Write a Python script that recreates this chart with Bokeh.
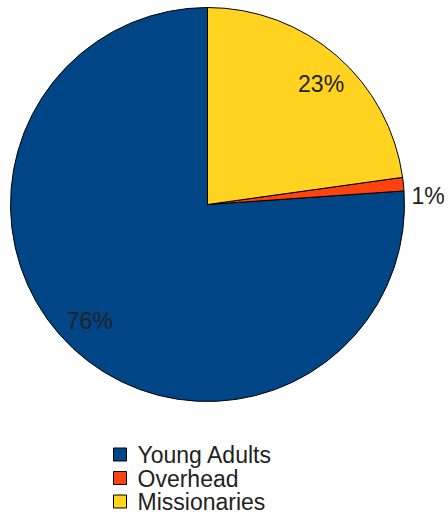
import math
from bokeh.plotting import figure
from bokeh.models import Range1d, ColumnDataSource
from bokeh.core.properties import value
from bokeh.embed import file_html
from bokeh.resources import INLINE

categories = ["Young Adults", "Overhead", "Missionaries"]
shares = [76.1, 1.1, 22.8]
labels = ["76%", "1%", "23%"]
colors = ["#004586", "#ff420e", "#ffd320"]

W, H = 448, 521
p = figure(width=W, height=H, output_backend="svg", toolbar_location=None,
           x_range=Range1d(0, W), y_range=Range1d(-H, 0),
           x_axis_type=None, y_axis_type=None, min_border=0)
p.outline_line_color = None
p.grid.visible = False

cx, cy, R = 207, -204, 197
total = sum(shares)
starts, ends, mids = [], [], []
a = math.pi / 2
for s in shares:
    span = 2 * math.pi * s / total
    starts.append(a)
    ends.append(a + span)
    mids.append(a + span / 2)
    a += span

src = ColumnDataSource(dict(cat=categories, start=starts, end=ends, color=colors))
p.wedge(x=cx, y=cy, radius=R, start_angle="start", end_angle="end",
        direction="anticlock", fill_color="color", line_color="#000000",
        line_width=1, source=src)

# slice labels
in_x, in_y, in_t = [], [], []
out_x, out_y, out_t = [], [], []
for s, m, lab in zip(shares, mids, labels):
    if s / total < 0.05:
        out_x.append(cx + (R + 8) * math.cos(m))
        out_y.append(cy + (R + 8) * math.sin(m))
        out_t.append(lab)
    else:
        ang = m - math.radians(2.3)
        in_x.append(cx + 0.84 * R * math.cos(ang))
        in_y.append(cy + 0.84 * R * math.sin(ang))
        in_t.append(lab)
p.text(x=in_x, y=in_y, text=in_t, text_align="center", text_baseline="middle",
       text_font=value("Liberation Sans"), text_font_size="23px", text_color="#222222")
p.text(x=out_x, y=out_y, text=out_t, text_align="left", text_baseline="top",
       text_font=value("Liberation Sans"), text_font_size="23px", text_color="#222222")

# legend
ly0, ldy = -454, -23.5
ly = [ly0 + i * ldy for i in range(len(categories))]
p.scatter(x=[119.5] * len(categories), y=ly, marker="square", size=13,
          fill_color=colors, line_color="#000000", line_width=1)
p.text(x=[137] * len(categories), y=[v - 0.5 for v in ly], text=categories,
       text_align="left", text_baseline="middle",
       text_font=value("Liberation Sans"), text_font_size="23px", text_color="#222222")

open("out.html", "w").write(file_html(p, INLINE))
